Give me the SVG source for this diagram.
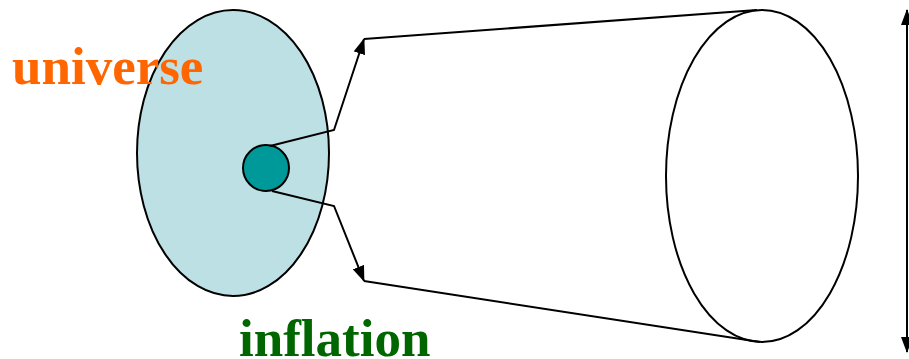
<svg xmlns="http://www.w3.org/2000/svg" width="909" height="359" viewBox="0 0 909 359">
<style>
.ln{fill:none;stroke:#000;stroke-width:2}
.lbl{font-family:"Liberation Serif","Times New Roman",serif;font-weight:bold;font-size:53px}
</style>
<defs>
<marker id="ah" viewBox="0 0 16 12" refX="15" refY="6" markerWidth="16" markerHeight="12" markerUnits="userSpaceOnUse" orient="auto-start-reverse">
<path d="M0,0 L16,6 L0,12 Z" fill="#000"/>
</marker>
</defs>
<rect width="909" height="359" fill="#fff"/>
<g id="universe">
<ellipse cx="233" cy="153" rx="96" ry="143" fill="#BCE0E4" stroke="#000" stroke-width="2"/>
</g>
<g id="inflaton">
<circle cx="266" cy="168" r="23" fill="#009999" stroke="#000" stroke-width="2"/>
</g>
<g id="cylinder">
<ellipse cx="762" cy="176" rx="96" ry="166" fill="#fff" stroke="#000" stroke-width="2"/>
</g>
<g id="connectors">
<polyline class="ln" points="270,146 334,130 364,39" marker-end="url(#ah)"/>
<polyline class="ln" points="272,191 334,206 364,281" marker-end="url(#ah)"/>
<line class="ln" x1="364" y1="39" x2="757" y2="10"/>
<line class="ln" x1="364" y1="281" x2="760" y2="342"/>
<line class="ln" x1="907" y1="10" x2="907" y2="352" marker-start="url(#ah)" marker-end="url(#ah)"/>
</g>
<text class="lbl" x="12" y="84" fill="#FF6600">universe</text>
<text class="lbl" x="239" y="356" fill="#006600">inflation</text>
</svg>
